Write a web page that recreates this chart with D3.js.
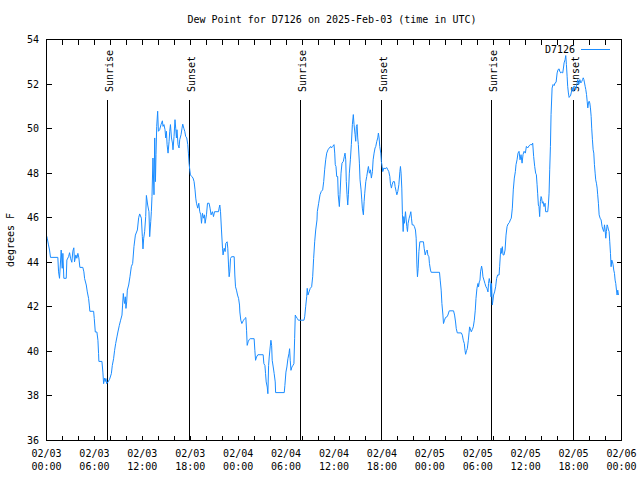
<!DOCTYPE html>
<html><head><meta charset="utf-8">
<script src="https://cdn.jsdelivr.net/npm/d3@7"></script>
<style>
body{margin:0;background:#fff}
svg{display:block}
text{font-family:"DejaVu Sans Mono","Liberation Mono",monospace;font-size:10px;fill:#000}
</style></head><body>
<svg id="c" width="640" height="480"></svg>
<script>
const title = "Dew Point for D7126 on 2025-Feb-03 (time in UTC)";
const seriesName = "D7126";
const yLabel = "degrees F";
const startUTC = Date.UTC(2025, 1, 3, 0, 0);
// hours since 2025-02-03 00:00 UTC
const hours = [0.00,0.09,0.25,0.38,0.50,1.42,1.51,1.63,1.84,1.97,2.05,2.17,2.47,2.55,2.76,2.89,3.01,3.17,3.30,3.42,3.51,3.68,3.80,3.93,4.05,4.18,4.55,4.68,4.77,4.98,5.11,5.27,5.36,5.43,5.90,5.98,6.11,6.31,6.44,6.52,6.56,6.94,7.06,7.15,7.28,7.36,7.44,7.53,7.69,7.90,8.12,8.24,8.40,8.53,8.66,8.82,8.94,9.12,9.28,9.45,9.53,9.62,9.70,9.78,9.87,9.95,10.04,10.12,10.29,10.45,10.62,10.79,10.95,11.13,11.38,11.54,11.67,11.88,12.00,12.08,12.17,12.29,12.42,12.51,12.67,12.83,12.92,13.05,13.13,13.21,13.33,13.46,13.55,13.64,13.71,13.80,13.92,14.01,14.17,14.34,14.51,14.59,14.71,14.84,14.93,15.02,15.10,15.22,15.35,15.43,15.52,15.65,15.77,15.84,15.97,16.09,16.18,16.27,16.34,16.47,16.60,16.68,16.85,16.97,17.06,17.19,17.31,17.43,17.56,17.69,17.77,17.85,17.94,18.02,18.19,18.35,18.48,18.60,18.69,18.78,18.94,19.07,19.19,19.32,19.41,19.53,19.66,19.78,19.86,20.03,20.16,20.36,20.48,20.61,20.78,20.91,21.04,21.54,21.61,21.70,21.79,21.91,22.04,22.11,22.24,22.37,22.45,22.62,22.70,22.79,22.87,22.95,23.04,23.17,23.50,23.58,23.67,23.79,23.92,24.05,24.17,24.21,24.33,24.46,24.67,24.84,24.96,25.05,25.13,25.25,25.38,25.50,26.00,26.09,26.18,26.30,26.47,27.13,27.22,27.35,27.43,27.51,27.64,27.72,27.81,27.89,28.01,28.10,28.19,28.26,28.39,28.51,28.64,28.69,29.77,29.85,29.98,30.10,30.23,30.36,30.44,30.52,30.61,30.73,30.86,30.98,31.07,31.15,31.27,31.40,31.53,32.24,32.33,32.45,32.58,32.65,32.74,32.87,33.03,33.20,33.33,33.45,33.58,33.71,33.87,33.91,34.08,34.25,34.41,34.58,34.71,34.83,34.96,35.09,35.25,35.41,35.59,35.66,35.84,36.00,36.09,36.16,36.25,36.34,36.46,36.53,36.67,36.75,36.88,37.00,37.17,37.29,37.38,37.47,37.54,37.63,37.72,37.80,37.92,38.05,38.17,38.30,38.42,38.51,38.64,38.72,38.80,38.89,38.97,39.05,39.18,39.26,39.39,39.48,39.55,39.68,39.77,39.85,39.98,40.10,40.23,40.31,40.43,40.56,40.68,40.81,40.90,41.02,41.14,41.23,41.36,41.48,41.56,41.65,41.73,41.86,41.93,42.03,42.11,42.24,42.40,42.61,42.74,42.86,42.99,43.06,43.19,43.28,43.40,43.57,43.65,43.78,43.87,43.99,44.12,44.25,44.32,44.40,44.49,44.57,44.66,44.74,44.82,44.95,45.04,45.12,45.20,45.28,45.41,45.53,45.62,45.70,45.79,45.95,46.07,46.20,46.29,46.38,46.45,46.54,46.63,46.75,47.20,47.29,47.42,47.54,47.67,47.75,47.88,47.95,48.08,48.17,49.21,49.30,49.42,49.51,49.64,49.71,49.84,49.96,50.14,50.26,50.43,50.97,51.10,51.22,51.31,51.44,51.94,52.07,52.19,52.32,52.40,52.48,52.61,52.69,52.82,52.91,52.98,53.07,53.19,53.32,53.44,53.57,53.69,53.78,53.90,54.03,54.10,54.19,54.28,54.35,54.48,54.57,54.65,54.78,54.90,55.03,55.15,55.28,55.35,55.44,55.57,55.66,55.73,55.82,55.91,55.98,56.11,56.24,56.36,56.49,56.67,56.74,56.83,56.92,56.99,57.08,57.17,57.29,57.42,57.54,57.67,57.80,57.95,58.08,58.20,58.33,58.45,58.58,58.71,58.79,58.92,59.04,59.17,59.30,59.42,59.55,59.67,59.80,59.96,60.09,60.25,60.43,60.59,60.80,60.88,61.00,61.13,61.25,61.34,61.43,61.50,61.59,61.67,61.75,61.84,61.93,62.00,62.09,62.18,62.30,62.43,62.50,62.76,62.84,62.93,63.01,63.10,63.18,63.31,63.43,63.56,63.68,63.81,63.94,64.06,64.19,64.26,64.39,64.51,64.64,64.73,64.81,64.94,65.02,65.10,65.19,65.26,65.35,65.44,65.52,65.61,65.70,65.82,65.95,66.02,66.15,66.27,66.40,66.53,66.62,66.70,66.78,66.91,67.03,67.12,67.21,67.29,67.37,67.45,67.53,67.62,67.70,67.78,67.86,67.95,68.03,68.11,68.20,68.27,68.36,68.45,68.53,68.61,68.70,68.77,68.86,68.95,69.02,69.11,69.20,69.32,69.45,69.57,69.70,69.78,69.87,69.95,70.03,70.11,70.20,70.28,70.37,70.45,70.53,70.62,70.70,70.78,70.87,70.95,71.03,71.12,71.20,71.28,71.37,71.45,71.53,71.62];
const dewF = [45.2,45.08,44.78,44.55,44.22,44.22,43.57,43.28,44.55,43.73,44.4,43.28,43.28,44.1,44.25,44.43,44.18,44.0,44.5,44.65,44.02,44.33,44.18,44.4,44.2,43.77,43.77,43.57,43.27,42.98,42.67,42.38,42.08,41.8,41.8,41.48,40.87,40.87,40.5,39.9,39.55,39.55,39.07,38.55,38.8,38.65,38.78,38.55,38.62,38.75,39.0,39.37,39.67,40.05,40.35,40.65,40.87,41.17,41.4,41.63,42.08,42.6,42.3,42.15,42.45,41.93,42.22,42.75,42.98,43.35,43.8,43.95,44.7,45.22,45.45,46.0,46.17,45.98,45.15,44.6,45.08,45.37,46.05,47.0,46.57,46.27,45.15,45.82,46.27,46.95,48.68,47.03,49.58,47.62,48.83,50.1,50.78,49.88,49.95,50.18,50.35,50.1,50.18,49.95,49.58,49.88,49.28,48.9,49.43,49.88,50.18,49.58,49.35,49.05,49.65,50.4,50.02,49.58,49.95,49.28,49.13,49.5,49.73,50.02,50.2,50.02,49.88,49.65,49.58,49.28,48.9,48.45,48.15,47.92,47.85,47.78,47.62,47.25,46.88,46.65,46.43,46.65,46.27,46.13,45.75,46.2,45.98,46.13,45.75,46.13,46.65,46.65,46.43,46.13,46.27,46.05,46.27,46.27,46.43,46.57,46.27,45.45,44.63,44.33,44.63,44.48,44.85,44.92,44.63,43.88,43.35,43.57,44.17,44.25,44.25,43.43,42.9,42.75,42.53,42.38,42.08,41.77,41.4,41.25,41.4,41.48,41.52,40.95,40.27,40.43,40.53,40.57,40.57,40.05,39.6,39.75,39.85,39.85,39.45,39.37,39.0,38.63,38.4,38.1,39.37,39.75,40.2,40.5,40.27,39.6,39.3,39.0,38.63,38.15,38.15,38.47,39.07,39.3,39.67,39.9,40.12,39.6,39.15,39.3,39.37,39.45,40.57,41.63,41.55,41.48,41.4,41.4,41.55,42.0,42.45,42.83,42.53,42.67,42.83,42.9,43.35,44.17,44.92,45.45,45.9,46.27,46.65,47.03,47.18,47.25,47.62,48.15,48.6,48.9,49.05,49.13,49.2,49.13,49.2,49.28,48.9,48.38,48.3,47.85,47.85,47.03,46.5,47.03,48.0,48.45,48.53,48.75,48.9,48.6,47.62,47.03,46.57,47.03,48.0,48.6,49.28,50.18,50.63,50.18,49.73,49.43,50.1,50.18,49.58,49.28,48.45,47.7,47.25,46.8,46.43,46.13,46.72,47.1,47.62,47.85,48.15,48.3,48.0,48.15,47.78,48.07,48.6,48.9,49.13,49.2,49.43,49.58,49.8,49.58,49.2,48.9,48.53,48.3,48.07,48.23,48.2,48.25,48.15,48.07,47.85,47.55,47.33,47.48,47.62,47.62,47.4,47.18,47.03,47.18,47.48,48.07,48.3,48.0,47.33,46.13,45.38,46.05,45.75,46.27,45.9,45.6,45.38,45.75,45.98,46.13,46.27,45.98,45.68,45.68,45.6,45.45,45.08,43.88,43.35,43.73,44.48,44.92,44.92,44.63,44.33,44.48,44.55,44.33,44.25,43.95,43.65,43.55,43.55,43.2,42.75,42.15,41.63,41.25,41.4,41.52,41.55,41.63,41.82,41.82,41.63,41.32,41.02,40.83,40.83,40.73,40.5,40.35,40.05,39.87,40.05,40.12,40.5,40.83,41.1,41.02,40.88,40.98,41.1,41.4,41.85,42.38,42.83,43.05,42.9,43.12,43.2,43.57,43.83,43.65,43.35,43.2,43.05,42.9,42.83,42.67,43.05,43.27,43.05,42.45,43.05,42.08,42.3,42.53,42.67,42.9,43.27,43.43,43.43,43.8,44.33,44.63,44.4,44.7,44.33,44.33,44.55,45.22,45.6,45.72,45.78,45.9,45.98,46.43,47.25,47.78,48.07,48.38,48.6,48.9,48.98,48.6,48.83,48.45,48.83,48.98,48.9,49.2,49.13,49.23,49.28,49.28,49.35,48.75,48.3,48.0,47.93,47.48,47.1,46.57,46.5,46.05,46.72,46.95,46.88,46.65,46.72,46.5,46.65,46.27,46.27,46.57,47.1,48.15,49.2,50.63,51.82,51.98,51.93,52.05,52.08,52.5,52.65,52.68,52.58,52.5,52.53,52.5,52.72,52.95,53.1,53.28,52.88,52.35,51.9,51.6,51.4,51.45,51.47,51.6,51.82,51.68,51.9,51.9,51.75,51.98,52.2,51.98,52.05,52.2,52.05,52.12,52.2,52.28,52.2,52.05,51.9,51.75,51.53,51.23,50.93,51.15,51.23,51.15,50.93,50.55,50.02,49.5,49.05,48.9,48.38,48.0,47.7,47.55,47.33,47.03,46.65,46.13,45.98,45.9,45.6,45.45,45.38,45.68,45.45,45.08,45.38,45.68,45.6,45.45,45.38,44.92,44.4,43.8,44.1,44.02,43.88,43.65,43.5,43.2,43.05,42.75,42.53,42.75,42.53];
const yTicks = [36,38,40,42,44,46,48,50,52,54];
const xTickHours = [0,6,12,18,24,30,36,42,48,54,60,66,72];
const xMinorHours = d3.range(0, 73, 2);
const sunLabels = ["Sunrise","Sunset","Sunrise","Sunset","Sunrise","Sunset"];
const sunHours = [7.69, 17.85, 31.77, 41.93, 55.73, 66.02];

const H = 3600e3;
const toDate = h => new Date(startUTC + h * H);
const data = hours.map((h, i) => ({t: toDate(h), v: dewF[i]}));

const svg = d3.select("#c");
const L = 46.5, R = 621.5, T = 39.5, B = 440.5;
const x = d3.scaleUtc().domain([toDate(0), toDate(72)]).range([L, R]);
const y = d3.scaleLinear().domain([36, 54]).range([B, T]);
const px = v => Math.round(v - 0.5) + 0.5;

svg.append("rect").attr("width", 640).attr("height", 480).attr("fill", "#fff");

// ticks
const g = svg.append("g").attr("stroke", "#000").attr("stroke-width", 1).attr("shape-rendering", "crispEdges");
xMinorHours.forEach(h => {
  const xx = px(x(toDate(h)));
  g.append("line").attr("x1", xx).attr("x2", xx).attr("y1", B).attr("y2", B - 5);
  g.append("line").attr("x1", xx).attr("x2", xx).attr("y1", T).attr("y2", T + 5);
});
yTicks.forEach(v => {
  const yy = px(y(v));
  g.append("line").attr("x1", L).attr("x2", L + 5).attr("y1", yy).attr("y2", yy);
  g.append("line").attr("x1", R).attr("x2", R - 5).attr("y1", yy).attr("y2", yy);
});

// tick labels
const fmtD = d3.utcFormat("%m/%d"), fmtT = d3.utcFormat("%H:%M");
xTickHours.forEach(h => {
  const d = toDate(h), xx = x(d);
  svg.append("text").attr("x", xx).attr("y", 457).attr("text-anchor", "middle").text(fmtD(d));
  svg.append("text").attr("x", xx).attr("y", 470).attr("text-anchor", "middle").text(fmtT(d));
});
yTicks.forEach(v => {
  svg.append("text").attr("x", 39).attr("y", y(v) + 3.5).attr("text-anchor", "end").text(v);
});

// sunrise / sunset
sunHours.forEach((h, i) => {
  const xx = px(x(toDate(h)));
  svg.append("line").attr("x1", xx).attr("x2", xx).attr("y1", 99.5).attr("y2", B)
    .attr("stroke", "#000").attr("shape-rendering", "crispEdges");
  svg.append("text").attr("transform", `translate(${xx + 5},92) rotate(-90)`)
    .attr("text-anchor", "start").text(sunLabels[i]);
});

// series line
const line = d3.line().x(d => x(d.t)).y(d => y(d.v));
svg.append("path").datum(data).attr("d", line)
  .attr("fill", "none").attr("stroke", "#1a8cff").attr("stroke-width", 1);

// border
svg.append("rect").attr("x", L).attr("y", T).attr("width", R - L).attr("height", B - T)
  .attr("fill", "none").attr("stroke", "#000").attr("shape-rendering", "crispEdges");

// legend
svg.append("text").attr("x", 575).attr("y", 53).attr("text-anchor", "end").text(seriesName);
svg.append("line").attr("x1", 581).attr("x2", 610).attr("y1", 49.5).attr("y2", 49.5)
  .attr("stroke", "#1a8cff").attr("stroke-width", 1);

// title & axis label
svg.append("text").attr("x", 332).attr("y", 23).attr("text-anchor", "middle").text(title);
svg.append("text").attr("transform", "translate(14,240) rotate(-90)").attr("text-anchor", "middle").text(yLabel);
</script>
</body></html>
